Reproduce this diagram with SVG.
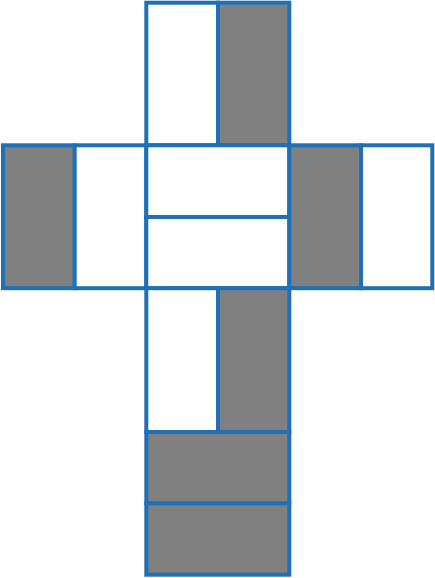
<svg xmlns="http://www.w3.org/2000/svg" width="435" height="578" viewBox="0 0 435 578">
<style>
rect{stroke:#1e70b9;stroke-width:4;stroke-linejoin:miter}
.w{fill:#ffffff}
.g{fill:#808080}
</style>
<rect x="0" y="0" width="435" height="578" fill="#ffffff" style="stroke:none"/>
<g id="top">
<rect class="w" x="146.3" y="2.7" width="71.7" height="142.6"/>
<rect class="g" x="218" y="2.7" width="71.3" height="142.6"/>
</g>
<g id="left">
<rect class="g" x="3" y="145.3" width="71.7" height="142.9"/>
<rect class="w" x="74.7" y="145.3" width="71.6" height="142.9"/>
</g>
<g id="center">
<rect class="w" x="146.3" y="145.3" width="143" height="71.7"/>
<rect class="w" x="146.3" y="217" width="143" height="71.2"/>
</g>
<g id="right">
<rect class="g" x="289.3" y="145.3" width="71.7" height="142.9"/>
<rect class="w" x="361" y="145.3" width="71.3" height="142.9"/>
</g>
<g id="below">
<rect class="w" x="146.3" y="288.2" width="71.7" height="143.8"/>
<rect class="g" x="218" y="288.2" width="71.3" height="143.8"/>
</g>
<g id="bottom">
<rect class="g" x="146.3" y="432" width="143" height="71.4"/>
<rect class="g" x="146.3" y="503.4" width="143" height="71.3"/>
</g>
<g id="connectors"></g>
</svg>
